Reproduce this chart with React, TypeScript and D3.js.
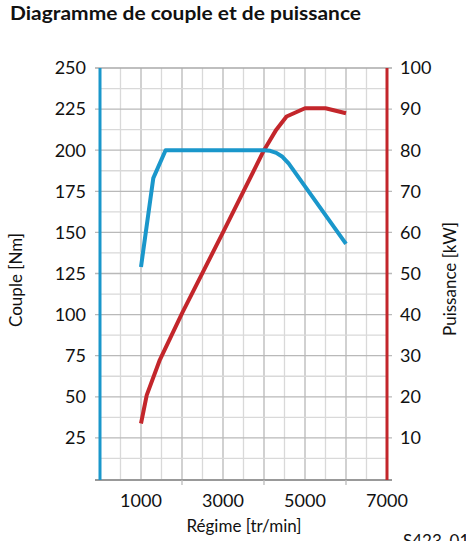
import React from "react";
import * as d3 from "d3";

const torqueRpm = [1000, 1300, 1600, 4000, 4150, 4300, 4450, 4600, 5000, 6000];
const torqueNm = [129, 183, 200, 200, 199.6, 198.4, 196, 192, 178, 143];
const powerRpm = [1000, 1140, 1460, 2000, 3000, 4000, 4300, 4550, 5000, 5500, 6000];
const powerKw = [13.5, 20.4, 29, 40.3, 60, 80, 85, 88.2, 90.2, 90.2, 89];
const leftTicks = [25, 50, 75, 100, 125, 150, 175, 200, 225, 250];
const rightTicks = [10, 20, 30, 40, 50, 60, 70, 80, 90, 100];
const bottomTicks = [1000, 3000, 5000, 7000];

const W = 466;
const H = 541;
const BLUE = "#1a97cb";
const RED = "#c3262b";
const FONT = "Lato, 'DejaVu Sans', sans-serif";

export default function App() {
  const x = d3.scaleLinear().domain([0, 7000]).range([100, 387]);
  const yL = d3.scaleLinear().domain([0, 250]).range([479, 68]);
  const yR = d3.scaleLinear().domain([0, 100]).range([479, 68]);

  const vLines = d3.range(500, 7000, 500);
  const hLines = d3.range(12.5, 250, 12.5);

  const torquePts: [number, number][] = torqueRpm.map((r, i) => [r, torqueNm[i]]);
  const powerPts: [number, number][] = powerRpm.map((r, i) => [r, powerKw[i]]);

  const tLine = d3
    .line<[number, number]>()
    .x((d) => x(d[0]))
    .y((d) => yL(d[1]))
    .curve(d3.curveLinear);
  const pLine = d3
    .line<[number, number]>()
    .x((d) => x(d[0]))
    .y((d) => yR(d[1]))
    .curve(d3.curveLinear);

  return (
    <svg
      width={W}
      height={H}
      style={{ position: "absolute", left: 0, top: 0, background: "#fff" }}
      fontFamily={FONT}
    >
      <text x={10} y={20} fontSize={18} fontWeight="bold" textLength={351} lengthAdjust="spacingAndGlyphs" fill="#111">
        Diagramme de couple et de puissance
      </text>

      {vLines.map((v) => (
        <line
          key={"v" + v}
          x1={x(v)}
          x2={x(v)}
          y1={yL(250)}
          y2={yL(0)}
          stroke={v % 1000 === 0 ? "#b9b9b9" : "#d9d9d9"}
          strokeWidth={1.3}
        />
      ))}
      {hLines.map((h) => {
        const major = h % 25 === 0;
        return (
          <line
            key={"h" + h}
            x1={major ? 95 : x(0)}
            x2={major ? 392 : x(7000)}
            y1={yL(h)}
            y2={yL(h)}
            stroke={major ? "#b9b9b9" : "#d9d9d9"}
            strokeWidth={1.3}
          />
        );
      })}
      <line x1={95} x2={392} y1={yL(250)} y2={yL(250)} stroke="#aaa" strokeWidth={1.5} />
      <line x1={95} x2={392} y1={480} y2={480} stroke="#999" strokeWidth={2} />
      {[2000, 4000, 6000].map((t) => (
        <line key={"bt" + t} x1={x(t)} x2={x(t)} y1={480} y2={485} stroke="#bbb" strokeWidth={1.3} />
      ))}

      <line x1={x(0)} x2={x(0)} y1={yL(250)} y2={480} stroke={BLUE} strokeWidth={3} />
      <line x1={x(7000)} x2={x(7000)} y1={yL(250)} y2={480} stroke={RED} strokeWidth={3} />

      <path d={pLine(powerPts) || ""} fill="none" stroke={RED} strokeWidth={4} strokeLinejoin="round" />
      <path d={tLine(torquePts) || ""} fill="none" stroke={BLUE} strokeWidth={4} strokeLinejoin="round" />

      {leftTicks.map((t) => (
        <text key={"l" + t} x={86} y={yL(t)} dy="0.35em" textAnchor="end" fontSize={18} fill="#111">
          {t}
        </text>
      ))}
      {rightTicks.map((t) => (
        <text key={"r" + t} x={400} y={yR(t)} dy="0.35em" textAnchor="start" fontSize={18} fill="#111">
          {t}
        </text>
      ))}
      {bottomTicks.map((t) => (
        <text key={"b" + t} x={x(t)} y={507} textAnchor="middle" fontSize={18} fill="#111">
          {t}
        </text>
      ))}

      <text x={244} y={532} textAnchor="middle" fontSize={17} fill="#111">
        Régime [tr/min]
      </text>
      <text transform="translate(22,280) rotate(-90)" textAnchor="middle" fontSize={17} fill="#111">
        Couple [Nm]
      </text>
      <text transform="translate(456,279) rotate(-90)" textAnchor="middle" fontSize={17} fill="#111">
        Puissance [kW]
      </text>
      <text x={403} y={547} fontSize={17} fill="#111">
        S423_012
      </text>
    </svg>
  );
}
